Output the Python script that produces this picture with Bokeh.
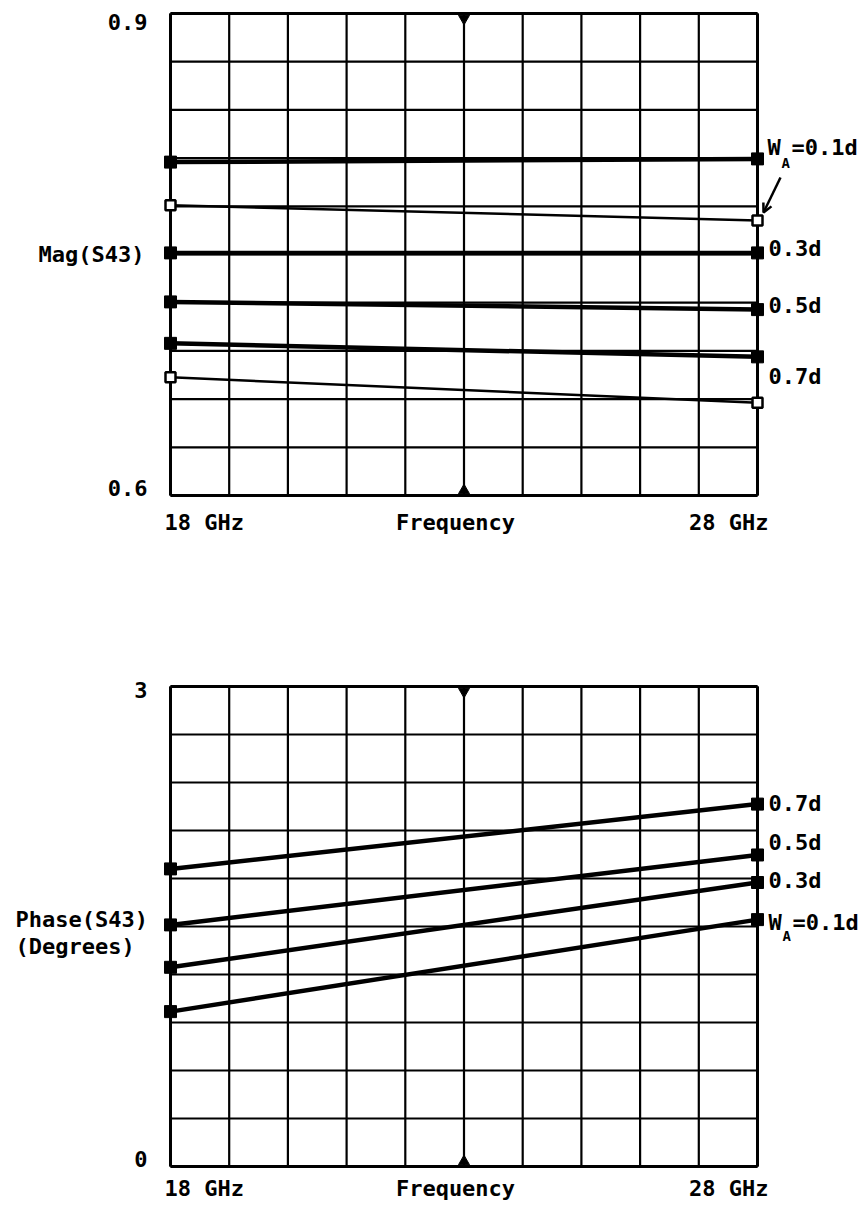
from bokeh.plotting import figure
from bokeh.layouts import column
from bokeh.models import Range1d, Label, Arrow, OpenHead
from bokeh.embed import file_html
from bokeh.resources import INLINE

# ---------------- data ----------------
freq = [18, 28]                      # GHz, end points of every trace
freq_grid = [18, 19, 20, 21, 22, 23, 24, 25, 26, 27, 28]
freq_labels = ["18 GHz", "Frequency", "28 GHz"]

mag_grid = [0.6, 0.63, 0.66, 0.69, 0.72, 0.75, 0.78, 0.81, 0.84, 0.87, 0.9]
mag_tick_labels = ["0.9", "0.6"]
mag_title = "Mag(S43)"

# thick traces (filled markers)
mag_01 = [0.8075, 0.8095]
mag_03 = [0.751, 0.751]
mag_05 = [0.7205, 0.7157]
mag_07 = [0.6947, 0.6863]
# thin traces (open markers)
mag_thin_a = [0.7806, 0.7712]
mag_thin_b = [0.6736, 0.6577]
mag_names = ["0.1d", "0.3d", "0.5d", "0.7d"]

phase_grid = [0.0, 0.3, 0.6, 0.9, 1.2, 1.5, 1.8, 2.1, 2.4, 2.7, 3.0]
phase_tick_labels = ["3", "0"]
phase_title = ["Phase(S43)", "(Degrees)"]

ph_07 = [1.860, 2.265]
ph_05 = [1.510, 1.947]
ph_03 = [1.245, 1.775]
ph_01 = [0.968, 1.543]

FONT = "DejaVu Sans Mono"
FS = "22px"
SUB_FS = "14px"

W = 861
LEFT_S, RIGHT_S = 170, 757   # page x of the 18 GHz and 28 GHz borders


def conv(s0, s1, v0, v1):
    return lambda s: v0 + (s - s0) * (v1 - v0) / (s1 - s0)


def panel(height, top_s, bot_s, page_off, ylo, yhi, ygrid):
    fx = conv(LEFT_S, RIGHT_S, freq[0], freq[-1])
    fy = conv(top_s, bot_s, yhi, ylo)
    # the frame covers the whole canvas so nothing (labels, edge markers) is clipped
    p = figure(width=W, height=height, title=None, toolbar_location=None,
               output_backend="svg", x_axis_location=None, y_axis_location=None,
               x_range=Range1d(fx(0), fx(W)),
               y_range=Range1d(fy(page_off + height), fy(page_off)),
               min_border=0, min_border_left=0, min_border_right=0,
               min_border_top=0, min_border_bottom=0)
    p.outline_line_color = None
    p.background_fill_color = "white"
    p.border_fill_color = "white"
    p.grid.visible = False
    n = len(freq_grid)
    m = len(ygrid)
    # grid
    p.segment(x0=freq_grid, y0=[ylo] * n, x1=freq_grid, y1=[yhi] * n,
              line_color="black", line_width=2.2)
    p.segment(x0=[freq[0]] * m, y0=ygrid, x1=[freq[-1]] * m, y1=ygrid,
              line_color="black", line_width=2.2)
    # border
    p.segment(x0=[freq[0], freq[-1]], y0=[ylo, ylo], x1=[freq[0], freq[-1]], y1=[yhi, yhi],
              line_color="black", line_width=3)
    p.segment(x0=[freq[0], freq[0]], y0=[ylo, yhi], x1=[freq[-1], freq[-1]], y1=[ylo, yhi],
              line_color="black", line_width=3)
    mid = (freq[0] + freq[-1]) / 2
    tri = fy(top_s) - fy(top_s + 5)
    p.scatter([mid], [yhi - tri], marker="inverted_triangle", size=11, color="black")
    p.scatter([mid], [ylo + tri], marker="triangle", size=11, color="black")
    return p, fx, fy


def lab(p, x, y, text, align="left", size=FS):
    p.add_layout(Label(x=x, y=y, text=text, text_font=FONT, text_font_size=size,
                       text_font_style="bold", text_color="black",
                       text_align=align, text_baseline="middle"))


# ---------------- top panel: magnitude ----------------
p1, fx1, fy1 = panel(600, 13, 495, 0, mag_grid[0], mag_grid[-1], mag_grid)
for ys in [mag_thin_a, mag_thin_b]:
    p1.line(freq, ys, line_color="black", line_width=2.5)
    p1.scatter(freq, ys, marker="square", size=10, fill_color="white",
               line_color="black", line_width=2.5)
for ys in [mag_01, mag_03, mag_05, mag_07]:
    p1.line(freq, ys, line_color="black", line_width=4.5)
    p1.scatter(freq, ys, marker="square", size=12, color="black")

lab(p1, fx1(147), fy1(21), mag_tick_labels[0], "right")
lab(p1, fx1(147), fy1(487), mag_tick_labels[1], "right")
lab(p1, fx1(38), fy1(254), mag_title)
lab(p1, fx1(164), fy1(522), freq_labels[0])
lab(p1, fx1(455), fy1(522), freq_labels[1], "center")
lab(p1, fx1(768), fy1(522), freq_labels[2], "right")
# right-hand labels
lab(p1, fx1(767), fy1(147), "W")
lab(p1, fx1(781), fy1(162), "A", size=SUB_FS)
lab(p1, fx1(791), fy1(147), "=" + mag_names[0])
lab(p1, fx1(768), fy1(248), mag_names[1])
lab(p1, fx1(768), fy1(305), mag_names[2])
lab(p1, fx1(768), fy1(376), mag_names[3])
p1.add_layout(Arrow(x_start=fx1(780), y_start=fy1(177), x_end=fx1(763), y_end=fy1(212),
                    line_color="black", line_width=2.5,
                    end=OpenHead(size=9, line_width=2.5, line_color="black")))

# ---------------- bottom panel: phase ----------------
p2, fx2, fy2 = panel(612, 686, 1166, 600, phase_grid[0], phase_grid[-1], phase_grid)
for ys in [ph_07, ph_05, ph_03, ph_01]:
    p2.line(freq, ys, line_color="black", line_width=4.5)
    p2.scatter(freq, ys, marker="square", size=12, color="black")

lab(p2, fx2(147), fy2(689), phase_tick_labels[0], "right")
lab(p2, fx2(147), fy2(1158), phase_tick_labels[1], "right")
lab(p2, fx2(15), fy2(919), phase_title[0])
lab(p2, fx2(15), fy2(946), phase_title[1])
lab(p2, fx2(164), fy2(1188), freq_labels[0])
lab(p2, fx2(455), fy2(1188), freq_labels[1], "center")
lab(p2, fx2(768), fy2(1188), freq_labels[2], "right")
lab(p2, fx2(768), fy2(803), mag_names[3])
lab(p2, fx2(768), fy2(842), mag_names[2])
lab(p2, fx2(768), fy2(880), mag_names[1])
lab(p2, fx2(768), fy2(922), "W")
lab(p2, fx2(782), fy2(935), "A", size=SUB_FS)
lab(p2, fx2(792), fy2(922), "=" + mag_names[0])

layout = column(p1, p2, spacing=0)
open("out.html", "w").write(file_html(layout, INLINE))
